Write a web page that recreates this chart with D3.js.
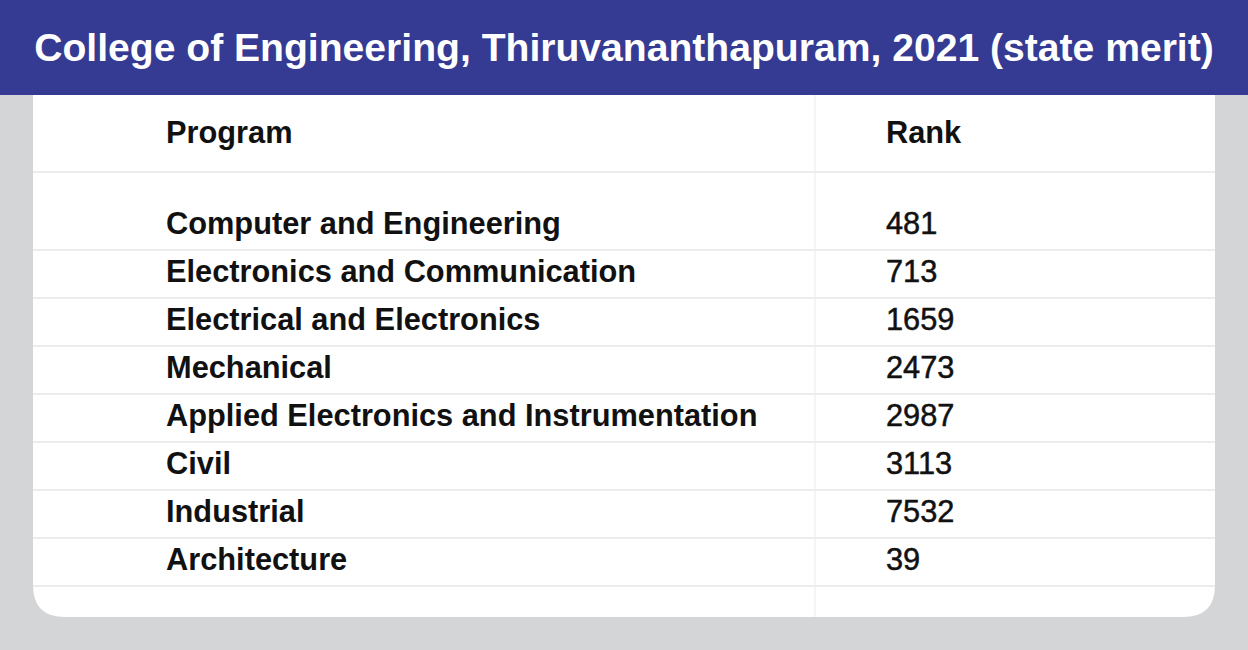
<!DOCTYPE html><html><head><meta charset="utf-8">
<script src="https://cdn.jsdelivr.net/npm/d3@7"></script>
<style>body{margin:0;background:#d4d5d7}</style></head><body>
<script>
const title = "College of Engineering, Thiruvananthapuram, 2021 (state merit)";
const columns = ["Program", "Rank"];
const programs = ["Computer and Engineering","Electronics and Communication","Electrical and Electronics","Mechanical","Applied Electronics and Instrumentation","Civil","Industrial","Architecture"];
const ranks = [481, 713, 1659, 2473, 2987, 3113, 7532, 39];

const W = 1248, H = 650;
const svg = d3.select("body").append("svg").attr("width", W).attr("height", H);
svg.append("rect").attr("width", W).attr("height", H).attr("fill", "#d4d5d7");
// card with rounded bottom
const cx0 = 33, cx1 = 1215, cy0 = 95, cy1 = 617, r = 32;
svg.append("path").attr("fill", "#fff")
  .attr("d", `M${cx0},${cy0}H${cx1}V${cy1-r}Q${cx1},${cy1} ${cx1-r},${cy1}H${cx0+r}Q${cx0},${cy1} ${cx0},${cy1-r}Z`);
svg.append("rect").attr("width", W).attr("height", 95).attr("fill", "#353a93");

const font = "'Liberation Sans', Arial, sans-serif";
function fit(sel, target) {
  const w = sel.node().getComputedTextLength();
  const fs = parseFloat(sel.attr("font-size"));
  sel.attr("font-size", fs * target / w);
}
const t = svg.append("text").attr("x", W/2).attr("y", 47).attr("text-anchor", "middle")
  .attr("dominant-baseline", "central").attr("fill", "#fff").attr("font-family", font)
  .attr("font-weight", "bold").attr("font-size", 32).text(title);
fit(t, 1180);

const y = d3.scaleBand().domain(programs).range([199, 199 + 48 * programs.length]);
const xName = 166, xRank = 886;

// grid lines
svg.append("line").attr("x1", cx0).attr("x2", cx1).attr("y1", 172).attr("y2", 172).attr("stroke", "#dadada").attr("stroke-width", 1.2);
svg.selectAll("line.row").data(programs).join("line").attr("class", "row")
  .attr("x1", cx0).attr("x2", cx1)
  .attr("y1", d => y(d) + y.bandwidth() + 3).attr("y2", d => y(d) + y.bandwidth() + 3)
  .attr("stroke", "#dadada").attr("stroke-width", 1.2);
svg.append("line").attr("x1", 815).attr("x2", 815).attr("y1", cy0).attr("y2", cy1).attr("stroke", "#ececec");

// headers
svg.selectAll("text.hd").data(columns).join("text").attr("class", "hd")
  .attr("x", (d, i) => i ? xRank : xName).attr("y", 132).attr("dominant-baseline", "central")
  .attr("font-family", font).attr("font-weight", "bold").attr("font-size", 27).attr("fill", "#111").text(d => d);

const names = svg.selectAll("text.nm").data(programs).join("text").attr("class", "nm")
  .attr("x", xName).attr("y", d => y(d) + y.bandwidth()/2).attr("dominant-baseline", "central")
  .attr("font-family", font).attr("font-weight", "bold").attr("font-size", 27).attr("fill", "#111").text(d => d);
const fs0 = 27 * 395 / names.filter((d, i) => i === 0).node().getComputedTextLength();
names.attr("font-size", fs0);
svg.selectAll("text.hd").attr("font-size", fs0);

svg.selectAll("text.rk").data(ranks).join("text").attr("class", "rk")
  .attr("x", xRank).attr("y", (d, i) => y(programs[i]) + y.bandwidth()/2).attr("dominant-baseline", "central")
  .attr("font-family", font).attr("font-size", fs0).attr("fill", "#111")
  .attr("stroke", "#111").attr("stroke-width", 0.5).text(d => d);
</script></body></html>
